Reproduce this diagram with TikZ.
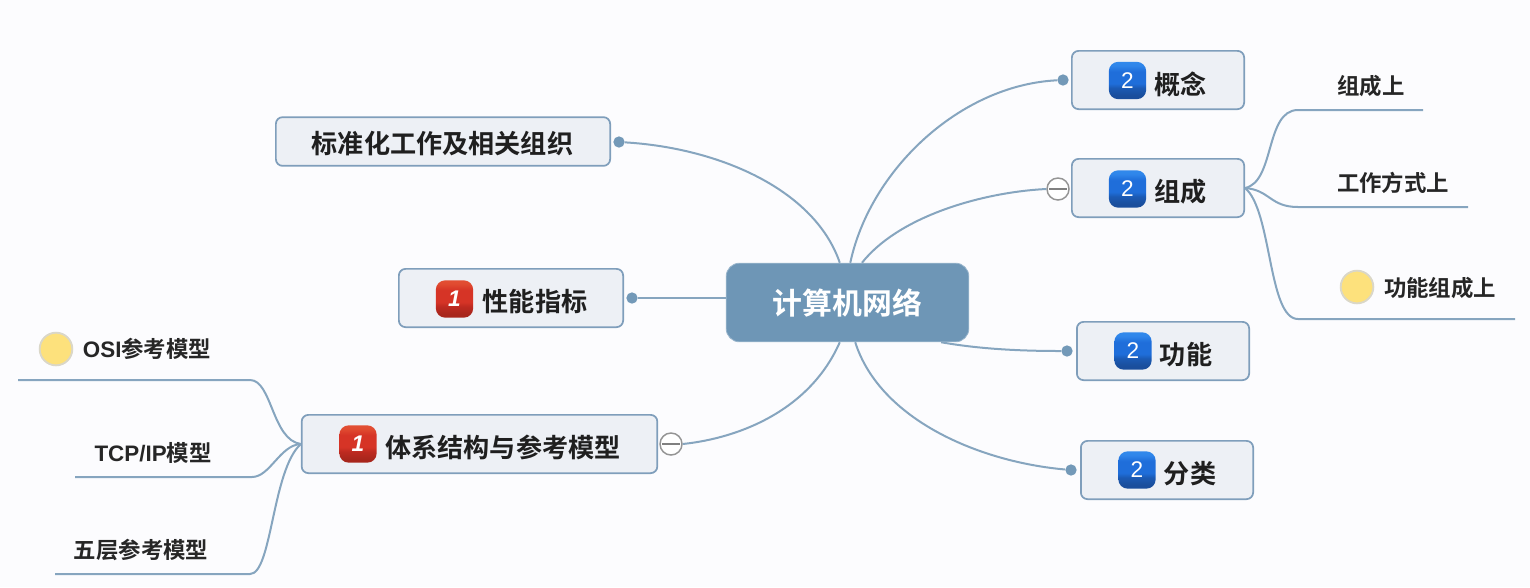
\documentclass[tikz,border=0pt]{standalone}
\usepackage{fontspec}
\setmainfont{Noto Sans CJK SC}[BoldFont={Noto Sans CJK SC Bold}]
\newfontfamily\latinfont{Liberation Sans}
\definecolor{bgc}{HTML}{FCFCFE}
\definecolor{boxfill}{HTML}{EDF0F5}
\definecolor{boxline}{HTML}{7F9EBB}
\definecolor{linec}{HTML}{86A5BF}
\definecolor{hub}{HTML}{6E96B6}
\definecolor{dotc}{HTML}{7399B8}
\definecolor{sunf}{HTML}{FDE17C}
\definecolor{sunl}{HTML}{DAD7C8}
\definecolor{bluea}{HTML}{1A4E9C}
\definecolor{blueb}{HTML}{1B5AB4}
\definecolor{bluec}{HTML}{1F6EDA}
\definecolor{blued}{HTML}{2F86EA}
\definecolor{bluee}{HTML}{3E98F0}
\definecolor{reda}{HTML}{A8261C}
\definecolor{redb}{HTML}{BE2A20}
\definecolor{redc}{HTML}{D63426}
\definecolor{redd}{HTML}{E04A30}
\definecolor{rede}{HTML}{EC6A48}
\pgfdeclareverticalshading{blueshade}{100bp}{
  color(0bp)=(bluea); color(30bp)=(bluea); color(40bp)=(blueb); color(46bp)=(bluec); color(62bp)=(bluec); color(70bp)=(blued); color(100bp)=(bluee)}
\pgfdeclareverticalshading{redshade}{100bp}{
  color(0bp)=(reda); color(30bp)=(reda); color(40bp)=(redb); color(46bp)=(redc); color(62bp)=(redc); color(70bp)=(redd); color(100bp)=(rede)}
\newcommand{\boxfont}{\fontsize{19.6pt}{23pt}\selectfont\bfseries\color{black!88}}
\newcommand{\subfont}{\fontsize{16.8pt}{20pt}\selectfont\bfseries\color{black!85}}
\tikzset{
  x=0.75pt,y=-0.75pt,
  topicbox/.style={draw=boxline,line width=1.3pt,fill=boxfill,rounded corners=5pt,minimum height=45pt-1.3pt,inner sep=0pt,anchor=center},
  hubbox/.style={fill=hub,draw=hub!70!white,line width=.6pt,rounded corners=10pt,minimum width=182pt,minimum height=59pt,text=white,inner sep=0pt},
  conn/.style={draw=linec,line width=1.5pt},
  dotnode/.style={circle,fill=dotc,draw=none,minimum size=8.5pt,inner sep=0pt},
  foldnode/.style={circle,draw=black!42,fill=white,line width=1.1pt,minimum size=16.5pt,inner sep=0pt},
  foldbar/.style={black!50,line width=1.1pt,shorten <=2pt,shorten >=2pt},
  bluebadge/.style={rounded corners=7pt,minimum size=28pt,inner sep=0pt,draw=none,shading=blueshade,text=white},
  redbadge/.style={rounded corners=7pt,minimum size=28pt,inner sep=0pt,draw=none,shading=redshade,text=white},
  sun/.style={circle,fill=sunf,draw=sunl,line width=1.4pt,minimum size=24.5pt,inner sep=0pt},
  sublabel/.style={inner sep=0pt,font=\subfont},
  toplabel/.style={inner sep=0pt,font=\boxfont},
}
\begin{document}
\begin{tikzpicture}
\useasboundingbox[fill=bgc] (0,0) rectangle (1530,587);

\node[hubbox,font=\fontsize{22.4pt}{26pt}\selectfont\bfseries] (hubnode) at (847.5,302.5) {计算机网络};

\node[topicbox,minimum width=252pt-1.3pt,minimum height=36.5pt] (std) at (443,141.5) {};
\node[toplabel] (stdt) at (442.5,144) {标准化工作及相关组织};

\node[topicbox,minimum width=169.5pt-1.3pt] (perf) at (511,298) {};
\node[redbadge] (perfb) at (454.5,299) {\fontsize{17pt}{20pt}\selectfont\latinfont\itshape\bfseries 1};
\node[toplabel] (perft) at (535,302) {性能指标};

\node[topicbox,minimum width=268pt-1.3pt] (arch) at (479.5,444) {};
\node[redbadge] (archb) at (358,444) {\fontsize{17pt}{20pt}\selectfont\latinfont\itshape\bfseries 1};
\node[toplabel] (archt) at (503,447) {体系结构与参考模型};

\node[topicbox,minimum width=130.5pt-1.3pt] (conc) at (1158,80) {};
\node[bluebadge] (concb) at (1127.5,80.5) {\fontsize{17pt}{20pt}\selectfont\latinfont 2};
\node[toplabel] (conct) at (1180.5,84) {概念};

\node[topicbox,minimum width=130.5pt-1.3pt] (comp) at (1158,188) {};
\node[bluebadge] (compb) at (1127.5,189) {\fontsize{17pt}{20pt}\selectfont\latinfont 2};
\node[toplabel] (compt) at (1180.5,192) {组成};

\node[topicbox,minimum width=130.5pt-1.3pt] (func) at (1163,351) {};
\node[bluebadge] (funcb) at (1133,351) {\fontsize{17pt}{20pt}\selectfont\latinfont 2};
\node[toplabel] (funct) at (1186,355) {功能};

\node[topicbox,minimum width=130.5pt-1.3pt] (cate) at (1167,470) {};
\node[bluebadge] (cateb) at (1137,470) {\fontsize{17pt}{20pt}\selectfont\latinfont 2};
\node[toplabel] (catet) at (1190,474) {分类};

% end markers
\node[dotnode] (dconc) at (1063,80) {};
\node[dotnode] (dstd) at (619,142) {};
\node[dotnode] (dperf) at (632,298) {};
\node[dotnode] (dfunc) at (1067,351) {};
\node[dotnode] (dcate) at (1071,470) {};
\node[foldnode] (fcomp) at (1058,189) {};
\node[foldnode] (farch) at (671,444) {};
\draw[foldbar] (fcomp.west) -- (fcomp.east);
\draw[foldbar] (farch.west) -- (farch.east);

% hub connectors
\draw[conn] (hubnode.86) .. controls (870,170) and (960,85) .. (dconc);
\draw[conn] (hubnode.70) .. controls (900,215) and (985,192) .. (fcomp.west);
\draw[conn] (hubnode.-23) .. controls (985,350) and (1030,351) .. (dfunc);
\draw[conn] (hubnode.-79) .. controls (880,420) and (980,462) .. (dcate);
\draw[conn] (hubnode.101) .. controls (815,190) and (720,148) .. (dstd);
\draw[conn] (dperf -| hubnode.west) -- (dperf);
\draw[conn] (hubnode.-101) .. controls (810,410) and (740,438) .. (farch.east);

% sub branches, right
\coordinate (r1a) at (1298,110); \coordinate (r1b) at (1423,110);
\coordinate (r2a) at (1298,207); \coordinate (r2b) at (1468,207);
\coordinate (r3a) at (1298,319); \coordinate (r3b) at (1515,319);
\draw[conn] (comp.east) .. controls (1275,182) and (1265,110) .. (r1a) -- (r1b);
\draw[conn] (comp.east) .. controls (1270,190) and (1270,207) .. (r2a) -- (r2b);
\draw[conn] (comp.east) .. controls (1272,210) and (1268,319) .. (r3a) -- (r3b);
\node[sublabel] (s1) at (1371,86) {组成上};
\node[sublabel] (s2) at (1393,183) {工作方式上};
\node[sun] (sun1) at (1357,287) {};
\node[sublabel] (s3) at (1440,288) {功能组成上};

% sub branches, left
\coordinate (l1a) at (250,380); \coordinate (l1b) at (18,380);
\coordinate (l2a) at (252,477); \coordinate (l2b) at (75,477);
\coordinate (l3a) at (250,574); \coordinate (l3b) at (55,574);
\draw[conn] (arch.west) .. controls (272,440) and (272,380) .. (l1a) -- (l1b);
\draw[conn] (arch.west) .. controls (280,445) and (270,477) .. (l2a) -- (l2b);
\draw[conn] (arch.west) .. controls (272,470) and (272,574) .. (l3a) -- (l3b);
\node[sun] (sun2) at (56,349) {};
\node[sublabel] (s4) at (147,349) {{\latinfont OSI}参考模型};
\node[sublabel] (s5) at (153,453) {{\latinfont TCP/IP}模型};
\node[sublabel] (s6) at (141,550) {五层参考模型};
\end{tikzpicture}
\end{document}
